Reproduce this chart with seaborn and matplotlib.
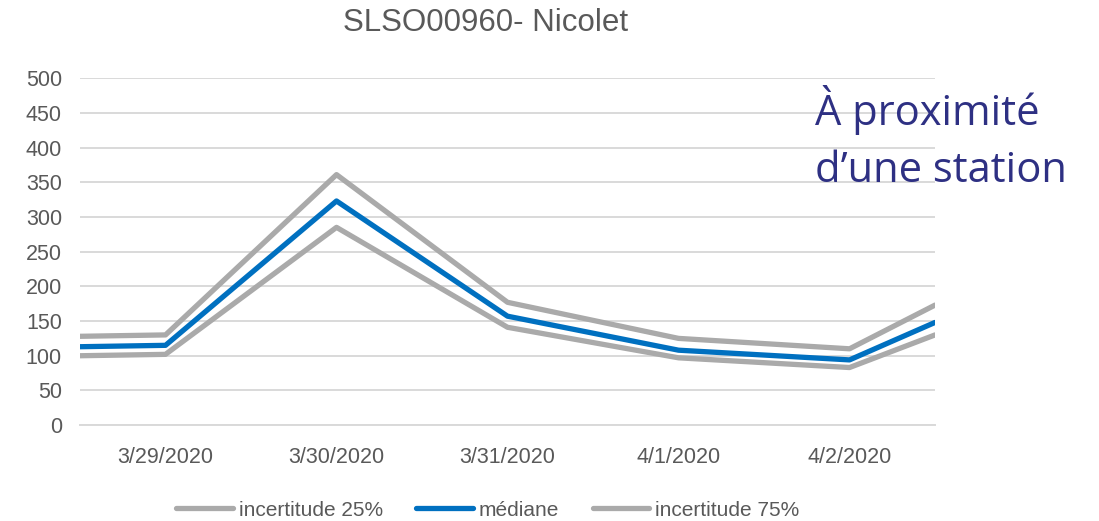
import matplotlib
matplotlib.use("Agg")
import matplotlib.pyplot as plt
import seaborn as sns
import numpy as np
import pandas as pd

# data
days = ["3/29/2020", "3/30/2020", "3/31/2020", "4/1/2020", "4/2/2020"]
# position of each point in day units (0 = 3/29/2020); the series runs off both edges
t = [-0.5, 0, 1, 2, 3, 4, 4.5]
q25 = [100, 102, 285, 141, 97, 83, 130]
median = [113, 115, 323, 157, 108, 94, 148]
q75 = [128, 130, 361, 177, 125, 110, 173]

series_names = ["incertitude 25%", "médiane", "incertitude 75%"]
colors = {"incertitude 25%": "#AAAAAA", "médiane": "#0070C0", "incertitude 75%": "#AAAAAA"}

df = pd.concat([
    pd.DataFrame({"t": t, "valeur": q25, "serie": series_names[0]}),
    pd.DataFrame({"t": t, "valeur": median, "serie": series_names[1]}),
    pd.DataFrame({"t": t, "valeur": q75, "serie": series_names[2]}),
])

sns.set_theme(style="white")
plt.rcParams["font.family"] = ["Liberation Sans", "DejaVu Sans"]

fig = plt.figure(figsize=(10.99, 5.21), dpi=100)
ax = fig.add_axes([0.0728, 0.184, 0.778, 0.666])

sns.lineplot(data=df, x="t", y="valeur", hue="serie", hue_order=series_names,
             palette=colors, linewidth=3.8, sort=False, ax=ax, legend=False)

ax.set_xlim(-0.5, 4.5)
ax.set_ylim(0, 500)
ax.set_yticks(np.arange(0, 501, 50))
ax.yaxis.grid(True, color="#D9D9D9", linewidth=1.4)
ax.set_axisbelow(True)

# category boundaries get the tick marks, the labels sit in the middle
ax.set_xticks(np.arange(-0.5, 4.6, 1.0))
ax.set_xticklabels([])
ax.set_xticks(np.arange(len(days)), minor=True)
ax.set_xticklabels(days, minor=True)
ax.tick_params(axis="x", which="major", length=7, width=1.4, color="#D9D9D9", direction="out")
ax.tick_params(axis="x", which="minor", length=0, pad=16, labelsize=15.5, labelcolor="#595959")
ax.tick_params(axis="y", length=0, pad=13, labelsize=15.5, labelcolor="#595959")

for side in ["top", "right", "left"]:
    ax.spines[side].set_visible(False)
ax.spines["bottom"].set_color("#D9D9D9")
ax.spines["bottom"].set_linewidth(1.4)

ax.set_xlabel("")
ax.set_ylabel("")

fig.text(0.442, 0.955, "SLSO00960- Nicolet", ha="center", va="center",
         fontsize=22.5, color="#595959")

fig.text(0.742, 0.760, "À proximité", ha="left", va="baseline",
         fontsize=30, color="#2E3083", family=["Open Sans", "DejaVu Sans"])
fig.text(0.742, 0.651, "d’une station", ha="left", va="baseline",
         fontsize=30, color="#2E3083", family=["Open Sans", "DejaVu Sans"])

handles = [plt.Line2D([], [], color=colors[n], linewidth=3.8) for n in series_names]
fig.legend(handles, series_names, loc="center", bbox_to_anchor=(0.444, 0.021),
           ncol=3, frameon=False, fontsize=15, labelcolor="#595959",
           handlelength=2.7, columnspacing=1.6, handletextpad=0.3)

fig.savefig("out.png", dpi=100)
